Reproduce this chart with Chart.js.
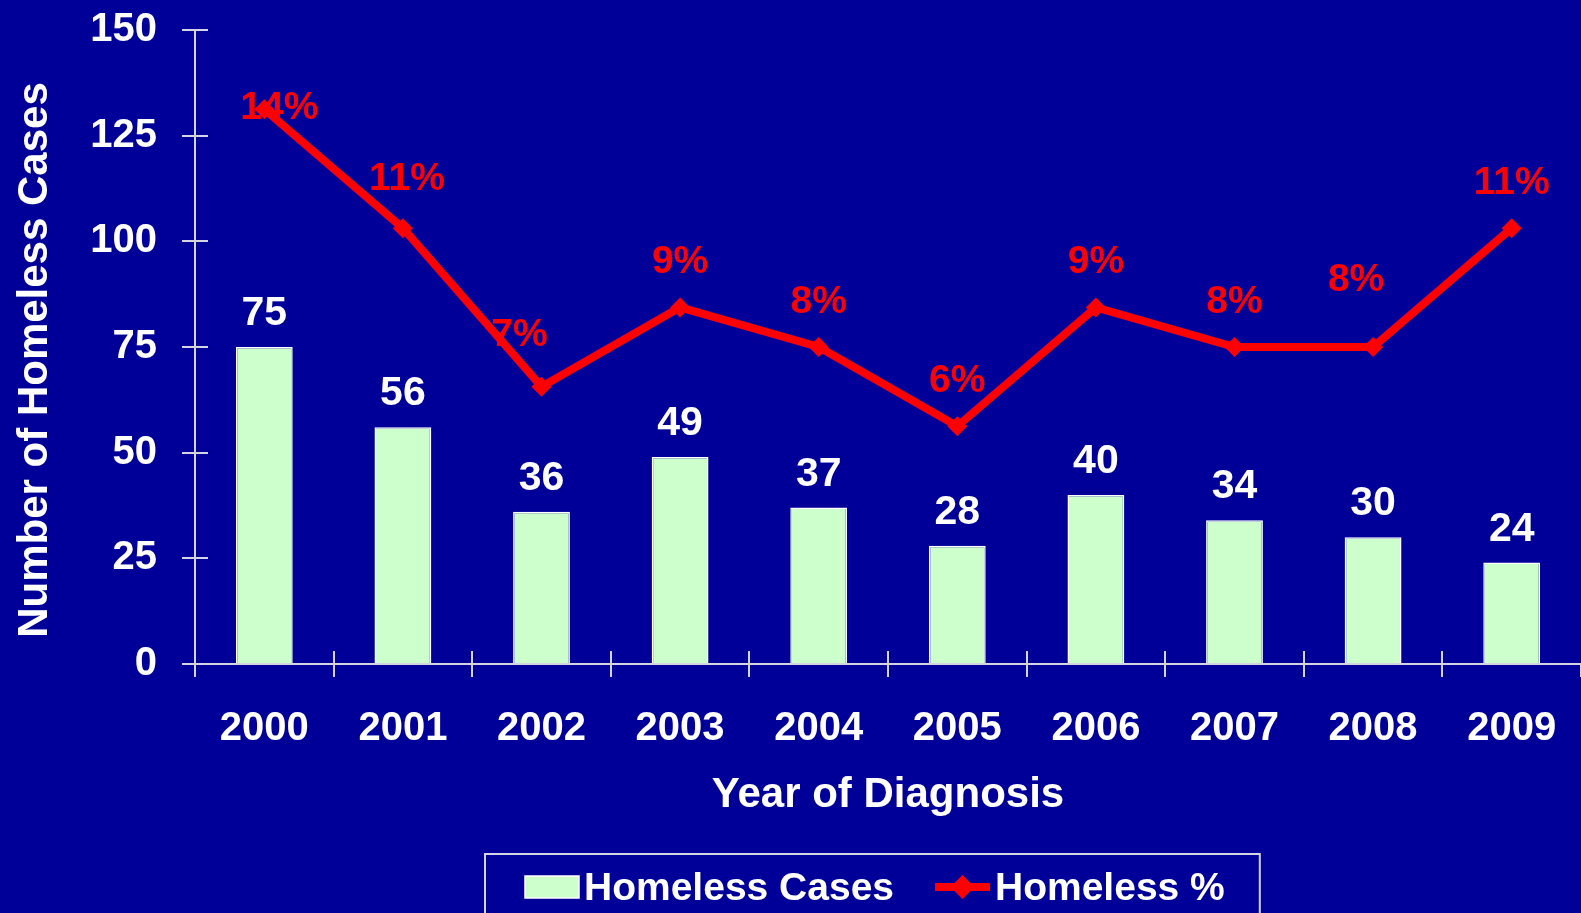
<!DOCTYPE html>
<html>
<head>
<meta charset="utf-8">
<title>Homeless Cases by Year of Diagnosis</title>
<script src="https://cdn.jsdelivr.net/npm/chart.js@4.4.1/dist/chart.umd.min.js"></script>
<style>
  html, body { margin: 0; padding: 0; background: #000099; overflow: hidden; }
  #wrap { width: 1581px; height: 913px; }
</style>
</head>
<body>
<div id="wrap"><canvas id="chart" width="1581" height="913"></canvas></div>
<script>
// data
const years = ["2000", "2001", "2002", "2003", "2004", "2005", "2006", "2007", "2008", "2009"];
const homelessCases = [75, 56, 36, 49, 37, 28, 40, 34, 30, 24];
const homelessPct = [14, 11, 7, 9, 8, 6, 9, 8, 8, 11];
const caseTicks = [0, 25, 50, 75, 100, 125, 150];

// a few % labels sit off their usual spot in the original
const pctLabelShift = [[15, 44], [4, -4], [-22, -7], [0, 0], [0, 0], [0, 0], [0, 0], [0, 0], [-17, -22], [0, 0]];

const FONT = "'Liberation Sans', Arial, sans-serif";
const AXIS_COLOR = "#d4d4e4";
const BAR_COLOR = "#ccffcc";
const LINE_COLOR = "#ff0000";
const Y_TITLE = "Number of Homeless Cases";

// ticks in the original cross the axis, chart.js only draws the outer half
const crossTicks = {
  id: "crossTicks",
  beforeDatasetsDraw(chart) {
    const { ctx, chartArea, scales } = chart;
    const tl = 13;
    ctx.save();
    ctx.strokeStyle = AXIS_COLOR;
    ctx.lineWidth = 2;
    ctx.beginPath();
    scales.y.ticks.forEach(t => {
      const py = Math.round(scales.y.getPixelForValue(t.value));
      ctx.moveTo(chartArea.left, py);
      ctx.lineTo(chartArea.left + tl, py);
    });
    const step = (chartArea.right - chartArea.left) / years.length;
    for (let i = 1; i < years.length; i++) {
      const px = Math.round(chartArea.left + step * i);
      ctx.moveTo(px, chartArea.bottom);
      ctx.lineTo(px, chartArea.bottom - tl);
    }
    ctx.stroke();
    ctx.restore();
  }
};

// y title sits a bit below the middle of the axis in the original
const yTitle = {
  id: "yTitle",
  afterDraw(chart) {
    const { ctx, chartArea } = chart;
    ctx.save();
    ctx.translate(35, (chartArea.top + chartArea.bottom) / 2 + 13);
    ctx.rotate(-Math.PI / 2);
    ctx.font = `bold 42px ${FONT}`;
    ctx.fillStyle = "#ffffff";
    ctx.textAlign = "center";
    ctx.textBaseline = "middle";
    ctx.fillText(Y_TITLE, 0, 0);
    ctx.restore();
  }
};

const valueLabels = {
  id: "valueLabels",
  afterDatasetsDraw(chart) {
    const ctx = chart.ctx;
    ctx.save();
    ctx.textAlign = "center";
    ctx.textBaseline = "alphabetic";

    ctx.font = `bold 41px ${FONT}`;
    const bars = chart.getDatasetMeta(1).data;
    ctx.fillStyle = "#ffffff";
    bars.forEach((bar, i) => {
      ctx.fillText(String(homelessCases[i]), bar.x, bar.y - 22);
    });

    ctx.font = `bold 39px ${FONT}`;
    const pts = chart.getDatasetMeta(0).data;
    ctx.fillStyle = LINE_COLOR;
    pts.forEach((pt, i) => {
      const s = pctLabelShift[i];
      ctx.fillText(homelessPct[i] + "%", pt.x + s[0], pt.y - 34 + s[1]);
    });
    ctx.restore();
  }
};

// boxed legend at the bottom, line entry drawn as line + diamond
const boxLegend = {
  id: "boxLegend",
  afterDraw(chart) {
    const ctx = chart.ctx;
    const names = chart.data.datasets.map(d => d.label);
    const barName = names[1];
    const lineName = names[0];
    ctx.save();
    ctx.font = `bold 39px ${FONT}`;
    const w1 = ctx.measureText(barName).width;
    const w2 = ctx.measureText(lineName).width;
    const swatchW = 54, swatchH = 22, lineW = 55, gapIn = 5, gapOut = 41, padL = 40, padR = 35;
    const total = padL + swatchW + gapIn + w1 + gapOut + lineW + gapIn + w2 + padR;
    const left = Math.round(chart.width * 0.5515 - total / 2);
    const top = chart.chartArea.bottom + 190;
    const midY = top + 33;

    ctx.strokeStyle = AXIS_COLOR;
    ctx.lineWidth = 2;
    ctx.strokeRect(left, top, total, chart.height - top + 20);

    let x = left + padL;
    ctx.fillStyle = BAR_COLOR;
    ctx.fillRect(x, midY - swatchH / 2, swatchW, swatchH);
    ctx.strokeStyle = "#ffffff";
    ctx.lineWidth = 1.5;
    ctx.strokeRect(x, midY - swatchH / 2, swatchW, swatchH);
    x += swatchW + gapIn;

    ctx.fillStyle = "#ffffff";
    ctx.textAlign = "left";
    ctx.textBaseline = "middle";
    ctx.fillText(barName, x, midY + 2);
    x += w1 + gapOut;

    ctx.strokeStyle = LINE_COLOR;
    ctx.lineWidth = 8;
    ctx.beginPath();
    ctx.moveTo(x, midY);
    ctx.lineTo(x + lineW, midY);
    ctx.stroke();
    const cx = x + lineW / 2, r = 12;
    ctx.fillStyle = LINE_COLOR;
    ctx.beginPath();
    ctx.moveTo(cx, midY - r);
    ctx.lineTo(cx + r, midY);
    ctx.lineTo(cx, midY + r);
    ctx.lineTo(cx - r, midY);
    ctx.closePath();
    ctx.fill();
    x += lineW + gapIn;

    ctx.fillStyle = "#ffffff";
    ctx.fillText(lineName, x, midY + 2);
    ctx.restore();
  }
};

const ctx = document.getElementById("chart").getContext("2d");

new Chart(ctx, {
  data: {
    labels: years,
    datasets: [
      {
        type: "line",
        label: "Homeless %",
        data: homelessPct,
        yAxisID: "y2",
        borderColor: LINE_COLOR,
        backgroundColor: LINE_COLOR,
        borderWidth: 8,
        pointStyle: "rectRot",
        pointRadius: 10,
        pointBorderWidth: 0,
        tension: 0,
        clip: false,
        order: 0
      },
      {
        type: "bar",
        label: "Homeless Cases",
        data: homelessCases,
        yAxisID: "y",
        backgroundColor: BAR_COLOR,
        borderColor: "#ffffff",
        borderWidth: 1.5,
        barPercentage: 0.41,
        categoryPercentage: 1,
        order: 1
      }
    ]
  },
  options: {
    responsive: false,
    animation: false,
    layout: { autoPadding: false, padding: { top: 30, right: 0, bottom: 70, left: 0 } },
    plugins: {
      legend: { display: false },
      tooltip: { enabled: false }
    },
    scales: {
      x: {
        offset: true,
        grid: { offset: true, drawOnChartArea: false, tickLength: 13, color: AXIS_COLOR, lineWidth: 2 },
        border: { color: AXIS_COLOR, width: 2 },
        ticks: { color: "#ffffff", font: { family: FONT, size: 40, weight: "bold" }, padding: 28, maxRotation: 0 },
        title: {
          display: true,
          text: "Year of Diagnosis",
          color: "#ffffff",
          font: { family: FONT, size: 42, weight: "bold" },
          padding: { top: 0, bottom: 22 }
        },
        afterFit(scale) {
          scale.height = 179;
          scale.paddingLeft = 0;
          scale.paddingRight = 0;
        }
      },
      y: {
        min: caseTicks[0],
        max: caseTicks[caseTicks.length - 1],
        afterBuildTicks(scale) { scale.ticks = caseTicks.map(v => ({ value: v })); },
        grid: { drawOnChartArea: false, tickLength: 13, color: AXIS_COLOR, lineWidth: 2 },
        border: { color: AXIS_COLOR, width: 2 },
        ticks: { color: "#ffffff", font: { family: FONT, size: 40, weight: "bold" }, padding: 25 },
        title: { display: false, text: Y_TITLE },
        afterFit(scale) {
          scale.width = 195;
          scale.paddingTop = 0;
          scale.paddingBottom = 0;
        }
      },
      y2: { display: false, min: 0, max: 16 }
    }
  },
  plugins: [crossTicks, valueLabels, yTitle, boxLegend]
});
</script>
</body>
</html>
